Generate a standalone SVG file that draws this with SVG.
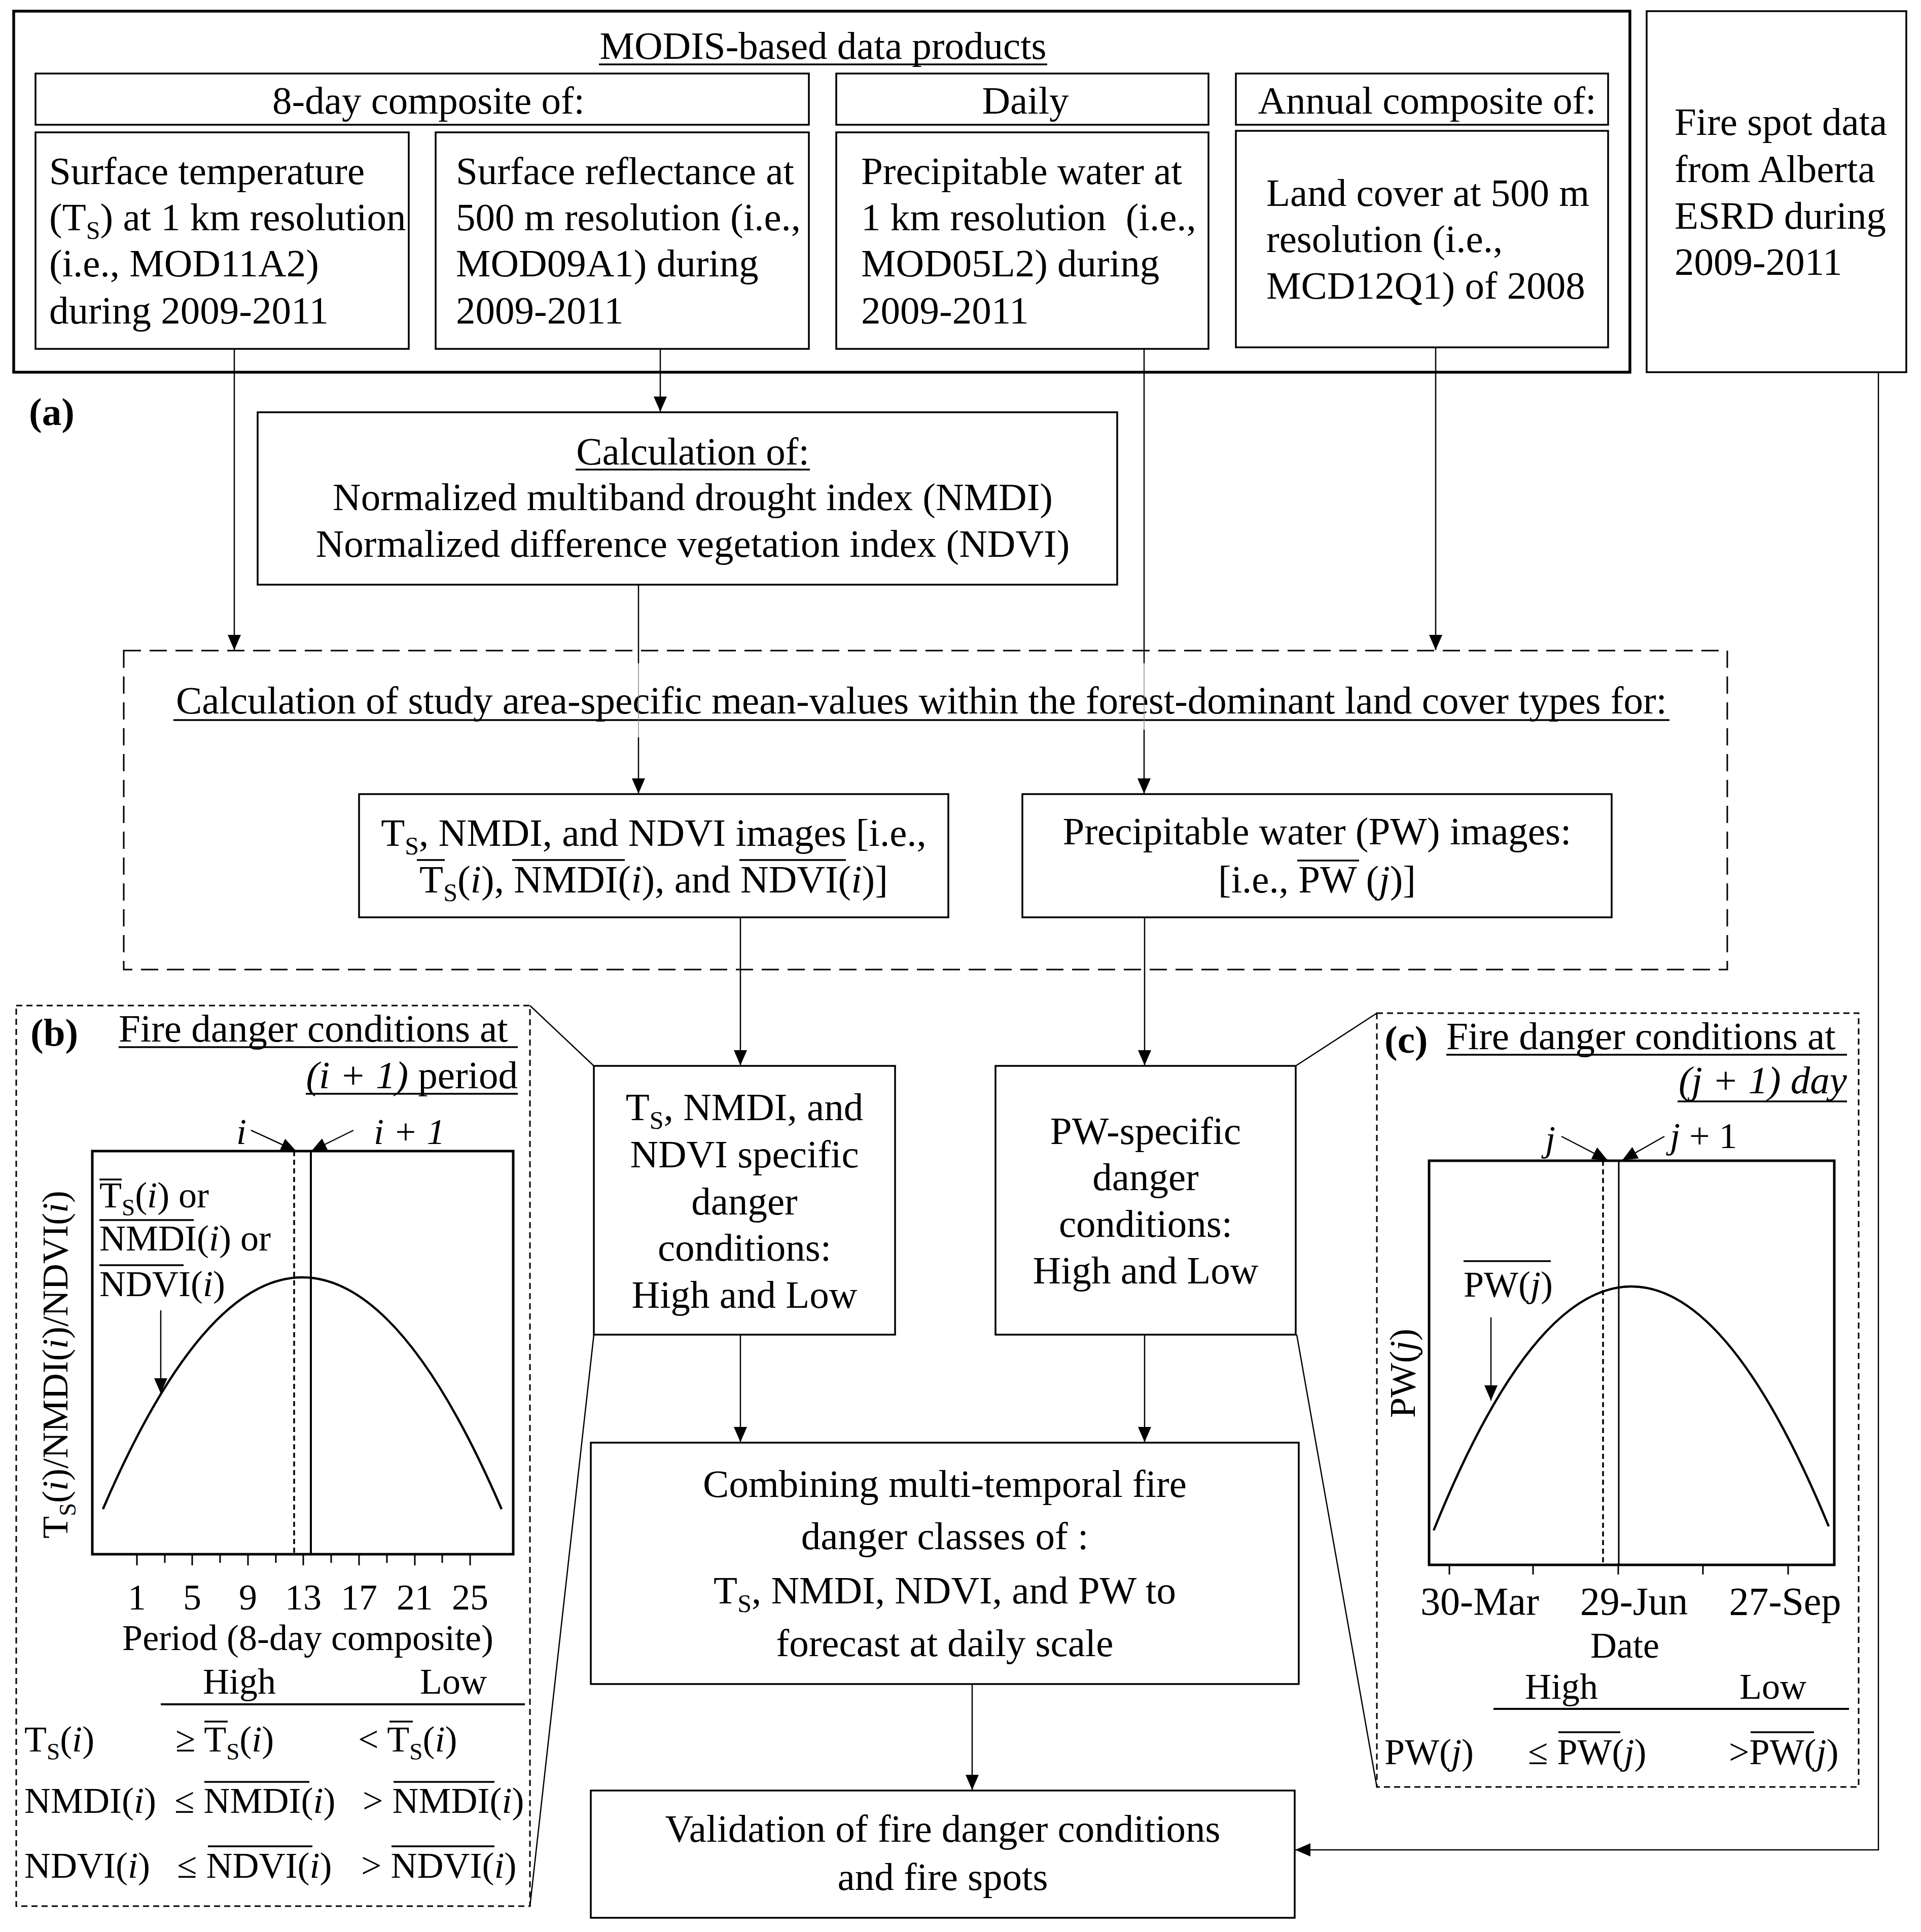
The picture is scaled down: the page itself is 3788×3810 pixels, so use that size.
<svg xmlns="http://www.w3.org/2000/svg" width="3788" height="3810" viewBox="0 0 3788 3810">
<style>
.t{font-family:"Liberation Serif","Times New Roman",serif;font-size:77px;fill:#000}
.s{font-size:72px}
.d{font-size:78px}
.b{font-weight:bold}
.sub{font-size:50px}
.s .sub{font-size:47px}
.it{font-style:italic}
.ovl{stroke:#000;stroke-width:3.5}
.unl{stroke:#000;stroke-width:3.5}
.box{fill:none;stroke:#000;stroke-width:3.5}
.outer{fill:none;stroke:#000;stroke-width:5.5}
.dash{fill:none;stroke:#000;stroke-width:3;stroke-dasharray:34 17}
.pdash{fill:none;stroke:#000;stroke-width:3;stroke-dasharray:12 8}
.frame{fill:none;stroke:#000;stroke-width:5}
.con{fill:none;stroke:#000;stroke-width:2.5}
.faint{fill:none;stroke:#888;stroke-width:1.5}
.ar{marker-end:url(#ah)}
.cv{fill:none;stroke:#000;stroke-width:4.5}
</style>
<defs>
<marker id="ah" markerUnits="userSpaceOnUse" markerWidth="30" markerHeight="26" refX="30" refY="13" orient="auto">
<path d="M0,0 L30,13 L0,26 z" fill="#000"/>
</marker>
</defs>
<rect width="3788" height="3810" fill="#fff"/>

<g id="modis-products">
<rect class="outer" x="27" y="22" width="3187" height="712"/>
<text class="t" x="1623" y="116" text-anchor="middle">MODIS-based data products</text>
<line class="unl" x1="1181" y1="127" x2="2065" y2="127"/>
</g>
<g id="hdr-8day"><rect class="box" x="70" y="145" width="1525" height="101"/><text class="t" x="845" y="224" text-anchor="middle">8-day composite of:</text></g>
<g id="hdr-daily"><rect class="box" x="1649" y="145" width="734" height="101"/><text class="t" x="2022" y="224" text-anchor="middle">Daily</text></g>
<g id="hdr-annual"><rect class="box" x="2437" y="145" width="734" height="101"/><text class="t" x="2814" y="224" text-anchor="middle">Annual composite of:</text></g>

<g id="box-ts">
<rect class="box" x="70" y="261" width="736" height="427"/>
<text class="t" x="97" y="363">Surface temperature</text>
<text class="t" x="97" y="454">(T<tspan class="sub" dy="17">S</tspan><tspan dy="-17">) at 1 km resolution</tspan></text>
<text class="t" x="97" y="545">(i.e., MOD11A2)</text>
<text class="t" x="97" y="638">during 2009-2011</text>
</g>
<g id="box-refl">
<rect class="box" x="859" y="261" width="736" height="427"/>
<text class="t" x="899" y="363">Surface reflectance at</text>
<text class="t" x="899" y="454">500 m resolution (i.e.,</text>
<text class="t" x="899" y="545">MOD09A1) during</text>
<text class="t" x="899" y="638">2009-2011</text>
</g>
<g id="box-pw">
<rect class="box" x="1649" y="261" width="734" height="427"/>
<text class="t" x="1698" y="363">Precipitable water at</text>
<text class="t" x="1698" y="454" xml:space="preserve">1 km resolution  (i.e.,</text>
<text class="t" x="1698" y="545">MOD05L2) during</text>
<text class="t" x="1698" y="638">2009-2011</text>
</g>
<g id="box-lc">
<rect class="box" x="2437" y="258" width="734" height="427"/>
<text class="t" x="2497" y="406">Land cover at 500 m</text>
<text class="t" x="2497" y="497">resolution (i.e.,</text>
<text class="t" x="2497" y="589">MCD12Q1) of 2008</text>
</g>
<g id="box-fire">
<rect class="box" x="3247" y="22" width="512" height="712"/>
<text class="t" x="3302" y="266">Fire spot data</text>
<text class="t" x="3302" y="359">from Alberta</text>
<text class="t" x="3302" y="451">ESRD during</text>
<text class="t" x="3302" y="542">2009-2011</text>
</g>

<g id="label-a"><text class="t b" x="57" y="838">(a)</text></g>

<g id="box-calc">
<rect class="box" x="508" y="813" width="1695" height="340"/>
<text class="t" x="1366" y="916" text-anchor="middle">Calculation of:</text>
<line class="unl" x1="1135" y1="926" x2="1597" y2="926"/>
<text class="t" x="1366" y="1006" text-anchor="middle">Normalized multiband drought index (NMDI)</text>
<text class="t" x="1366" y="1098" text-anchor="middle">Normalized difference vegetation index (NDVI)</text>
</g>

<g id="box-mean">
<rect class="dash" x="244" y="1283" width="3162" height="629"/>
<text class="t" x="1817" y="1407" text-anchor="middle">Calculation of study area-specific mean-values within the forest-dominant land cover types for:</text>
<line class="unl" x1="342" y1="1420" x2="3292" y2="1420"/>
</g>

<g id="box-ts-images">
<rect class="box" x="708" y="1566" width="1162" height="243"/>
<text class="t" x="1289" y="1668" text-anchor="middle">T<tspan class="sub" dy="17">S</tspan><tspan dy="-17">, NMDI, and NDVI images [i.e.,</tspan></text>
<text class="t" x="1289" y="1760" text-anchor="middle">T<tspan class="sub" dy="17">S</tspan><tspan dy="-17">(</tspan><tspan class="it">i</tspan>), NMDI(<tspan class="it">i</tspan>), and NDVI(<tspan class="it">i</tspan>)]</text>
<line class="ovl" x1="822" y1="1696" x2="877" y2="1696"/>
<line class="ovl" x1="1010" y1="1696" x2="1232" y2="1696"/>
<line class="ovl" x1="1458" y1="1696" x2="1668" y2="1696"/>
</g>
<g id="box-pw-images">
<rect class="box" x="2016" y="1566" width="1162" height="243"/>
<text class="t" x="2597" y="1665" text-anchor="middle">Precipitable water (PW) images:</text>
<text class="t" x="2597" y="1760" text-anchor="middle">[i.e., PW (<tspan class="it">j</tspan>)]</text>
<line class="ovl" x1="2558" y1="1697" x2="2680" y2="1697"/>
</g>

<g id="box-ts-danger">
<rect class="box" x="1171" y="2102" width="594" height="530"/>
<text class="t" x="1468" y="2209" text-anchor="middle">T<tspan class="sub" dy="17">S</tspan><tspan dy="-17">, NMDI, and</tspan></text>
<text class="t" x="1468" y="2302" text-anchor="middle">NDVI specific</text>
<text class="t" x="1468" y="2395" text-anchor="middle">danger</text>
<text class="t" x="1468" y="2486" text-anchor="middle">conditions:</text>
<text class="t" x="1468" y="2579" text-anchor="middle">High and Low</text>
</g>
<g id="box-pw-danger">
<rect class="box" x="1963" y="2102" width="592" height="530"/>
<text class="t" x="2259" y="2256" text-anchor="middle">PW-specific</text>
<text class="t" x="2259" y="2347" text-anchor="middle">danger</text>
<text class="t" x="2259" y="2439" text-anchor="middle">conditions:</text>
<text class="t" x="2259" y="2531" text-anchor="middle">High and Low</text>
</g>
<g id="box-combine">
<rect class="box" x="1165" y="2845" width="1396" height="476"/>
<text class="t" x="1863" y="2952" text-anchor="middle">Combining multi-temporal fire</text>
<text class="t" x="1863" y="3055" text-anchor="middle">danger classes of :</text>
<text class="t" x="1863" y="3162" text-anchor="middle">T<tspan class="sub" dy="17">S</tspan><tspan dy="-17">, NMDI, NDVI, and PW to</tspan></text>
<text class="t" x="1863" y="3266" text-anchor="middle">forecast at daily scale</text>
</g>
<g id="box-validation">
<rect class="box" x="1165" y="3531" width="1388" height="251"/>
<text class="t" x="1859" y="3632" text-anchor="middle">Validation of fire danger conditions</text>
<text class="t" x="1859" y="3727" text-anchor="middle">and fire spots</text>
</g>

<g id="connectors">
<line class="con ar" x1="462" y1="688" x2="462" y2="1282"/>
<line class="con ar" x1="1302" y1="688" x2="1302" y2="812"/>
<line class="con" x1="2256" y1="688" x2="2256" y2="1308"/>
<line class="faint" x1="2256" y1="1308" x2="2256" y2="1439"/>
<line class="con ar" x1="2256" y1="1439" x2="2256" y2="1565"/>
<line class="con ar" x1="2831" y1="685" x2="2831" y2="1282"/>
<line class="con" x1="1259" y1="1153" x2="1259" y2="1308"/>
<line class="faint" x1="1259" y1="1308" x2="1259" y2="1454"/>
<line class="con ar" x1="1259" y1="1454" x2="1259" y2="1565"/>
<line class="con ar" x1="1460" y1="1809" x2="1460" y2="2101"/>
<line class="con ar" x1="2257" y1="1809" x2="2257" y2="2101"/>
<line class="con ar" x1="1460" y1="2632" x2="1460" y2="2844"/>
<line class="con ar" x1="2257" y1="2632" x2="2257" y2="2844"/>
<line class="con ar" x1="1917" y1="3321" x2="1917" y2="3530"/>
<polyline class="con ar" points="3704,734 3704,3648 2554,3648"/>
<line class="con" x1="1045" y1="1983" x2="1171" y2="2102"/>
<line class="con" x1="1045" y1="3759" x2="1171" y2="2632"/>
<line class="con" x1="2555" y1="2102" x2="2715" y2="1998"/>
<line class="con" x1="2557" y1="2632" x2="2715" y2="3524"/>
</g>

<g id="panel-b">
<rect class="pdash" x="32" y="1983" width="1013" height="1776"/>
<text class="t b" x="60" y="2062">(b)</text>
<text class="t" x="234" y="2054">Fire danger conditions at</text>
<line class="unl" x1="234" y1="2065" x2="1021" y2="2065"/>
<text class="t" x="1021" y="2146" text-anchor="end"><tspan class="it">(i + 1)</tspan> period</text>
<line class="unl" x1="603" y1="2157" x2="1021" y2="2157"/>
<rect class="frame" x="182" y="2270" width="830" height="795"/>
<line x1="580" y1="2270" x2="580" y2="3065" stroke="#000" stroke-width="3.5" stroke-dasharray="10 7"/>
<line x1="613" y1="2270" x2="613" y2="3065" stroke="#000" stroke-width="4"/>
<path class="cv" d="M203,2976 Q596,2062 989,2976"/>
<line class="con ar" x1="317" y1="2584" x2="317" y2="2748"/>
<text class="t s" x="196" y="2381">T<tspan class="sub" dy="16">S</tspan><tspan dy="-16">(</tspan><tspan class="it">i</tspan>) or</text>
<line class="ovl" x1="196" y1="2326" x2="240" y2="2326"/>
<text class="t s" x="196" y="2466">NMDI(<tspan class="it">i</tspan>) or</text>
<line class="ovl" x1="196" y1="2406" x2="382" y2="2406"/>
<text class="t s" x="196" y="2556">NDVI(<tspan class="it">i</tspan>)</text>
<line class="ovl" x1="196" y1="2495" x2="362" y2="2495"/>
<text class="t s it" x="466" y="2256">i</text>
<line class="con ar" x1="495" y1="2229" x2="584" y2="2270"/>
<text class="t s it" x="737" y="2256">i + 1</text>
<line class="con ar" x1="697" y1="2229" x2="614" y2="2270"/>
<text class="t s" x="133" y="2691" text-anchor="middle" transform="rotate(-90 133 2691)">T<tspan class="sub" dy="16">S</tspan><tspan dy="-16">(</tspan><tspan class="it">i</tspan>)/NMDI(<tspan class="it">i</tspan>)/NDVI(<tspan class="it">i</tspan>)</text>
<g stroke="#000" stroke-width="3">
<line x1="270" y1="3065" x2="270" y2="3087"/><line x1="325" y1="3065" x2="325" y2="3082"/>
<line x1="379" y1="3065" x2="379" y2="3087"/><line x1="434" y1="3065" x2="434" y2="3082"/>
<line x1="489" y1="3065" x2="489" y2="3087"/><line x1="544" y1="3065" x2="544" y2="3082"/>
<line x1="598" y1="3065" x2="598" y2="3087"/><line x1="653" y1="3065" x2="653" y2="3082"/>
<line x1="708" y1="3065" x2="708" y2="3087"/><line x1="763" y1="3065" x2="763" y2="3082"/>
<line x1="818" y1="3065" x2="818" y2="3087"/><line x1="872" y1="3065" x2="872" y2="3082"/>
<line x1="927" y1="3065" x2="927" y2="3087"/>
</g>
<text class="t s" y="3174" text-anchor="middle"><tspan x="270">1</tspan><tspan x="379">5</tspan><tspan x="489">9</tspan><tspan x="598">13</tspan><tspan x="708">17</tspan><tspan x="818">21</tspan><tspan x="927">25</tspan></text>
<text class="t s" x="607" y="3254" text-anchor="middle">Period (8-day composite)</text>
<text class="t s" x="400" y="3340">High</text>
<text class="t s" x="828" y="3340">Low</text>
<line x1="317" y1="3361" x2="1035" y2="3361" stroke="#000" stroke-width="4"/>
<text class="t s" x="48" y="3454">T<tspan class="sub" dy="16">S</tspan><tspan dy="-16">(</tspan><tspan class="it">i</tspan>)</text>
<text class="t s" x="346" y="3454">≥ T<tspan class="sub" dy="16">S</tspan><tspan dy="-16">(</tspan><tspan class="it">i</tspan>)</text>
<line class="ovl" x1="403" y1="3395" x2="449" y2="3395"/>
<text class="t s" x="706" y="3454">&lt; T<tspan class="sub" dy="16">S</tspan><tspan dy="-16">(</tspan><tspan class="it">i</tspan>)</text>
<line class="ovl" x1="768" y1="3395" x2="814" y2="3395"/>
<text class="t s" x="48" y="3575">NMDI(<tspan class="it">i</tspan>)</text>
<text class="t s" x="344" y="3575">≤ NMDI(<tspan class="it">i</tspan>)</text>
<line class="ovl" x1="403" y1="3514" x2="610" y2="3514"/>
<text class="t s" x="715" y="3575">&gt; NMDI(<tspan class="it">i</tspan>)</text>
<line class="ovl" x1="776" y1="3514" x2="975" y2="3514"/>
<text class="t s" x="48" y="3703">NDVI(<tspan class="it">i</tspan>)</text>
<text class="t s" x="349" y="3703">≤ NDVI(<tspan class="it">i</tspan>)</text>
<line class="ovl" x1="410" y1="3641" x2="616" y2="3641"/>
<text class="t s" x="712" y="3703">&gt; NDVI(<tspan class="it">i</tspan>)</text>
<line class="ovl" x1="772" y1="3641" x2="975" y2="3641"/>
</g>

<g id="panel-c">
<rect class="pdash" x="2715" y="1998" width="950" height="1526"/>
<text class="t b" x="2730" y="2076">(c)</text>
<text class="t" x="2852" y="2069">Fire danger conditions at</text>
<line class="unl" x1="2852" y1="2080" x2="3642" y2="2080"/>
<text class="t it" x="3642" y="2156" text-anchor="end">(j + 1) day</text>
<line class="unl" x1="3308" y1="2172" x2="3642" y2="2172"/>
<rect class="frame" x="2818" y="2289" width="799" height="797"/>
<line x1="3161" y1="2289" x2="3161" y2="3086" stroke="#000" stroke-width="3.5" stroke-dasharray="10 7"/>
<line x1="3192" y1="2289" x2="3192" y2="3086" stroke="#000" stroke-width="3"/>
<path class="cv" d="M2827,3018 Q3214,2060 3606,3010"/>
<line class="con ar" x1="2940" y1="2598" x2="2940" y2="2762"/>
<text class="t s" x="2886" y="2557">PW(<tspan class="it">j</tspan>)</text>
<line class="ovl" x1="2886" y1="2487" x2="3058" y2="2487"/>
<text class="t s it" x="3047" y="2270">j</text>
<line class="con ar" x1="3079" y1="2241" x2="3170" y2="2288"/>
<text class="t s" x="3293" y="2264"><tspan class="it">j</tspan> + 1</text>
<line class="con ar" x1="3282" y1="2241" x2="3199" y2="2288"/>
<text class="t s" x="2790" y="2708" text-anchor="middle" transform="rotate(-90 2790 2708)">PW(<tspan class="it">j</tspan>)</text>
<g stroke="#000" stroke-width="3">
<line x1="2858" y1="3086" x2="2858" y2="3105"/>
<line x1="3023" y1="3086" x2="3023" y2="3105"/>
<line x1="3191" y1="3086" x2="3191" y2="3105"/>
<line x1="3358" y1="3086" x2="3358" y2="3105"/>
<line x1="3526" y1="3086" x2="3526" y2="3105"/>
</g>
<text class="t d" y="3184" text-anchor="middle"><tspan x="2918">30-Mar</tspan><tspan x="3222">29-Jun</tspan><tspan x="3520">27-Sep</tspan></text>
<text class="t s" x="3204" y="3269" text-anchor="middle">Date</text>
<text class="t s" x="3007" y="3350">High</text>
<text class="t s" x="3430" y="3350">Low</text>
<line x1="2945" y1="3370" x2="3646" y2="3370" stroke="#000" stroke-width="4"/>
<text class="t s" x="2730" y="3479">PW(<tspan class="it">j</tspan>)</text>
<text class="t s" x="3013" y="3479">≤ PW(<tspan class="it">j</tspan>)</text>
<line class="ovl" x1="3073" y1="3416" x2="3195" y2="3416"/>
<text class="t s" x="3409" y="3479">&gt;PW(<tspan class="it">j</tspan>)</text>
<line class="ovl" x1="3452" y1="3416" x2="3577" y2="3416"/>
</g>
</svg>
